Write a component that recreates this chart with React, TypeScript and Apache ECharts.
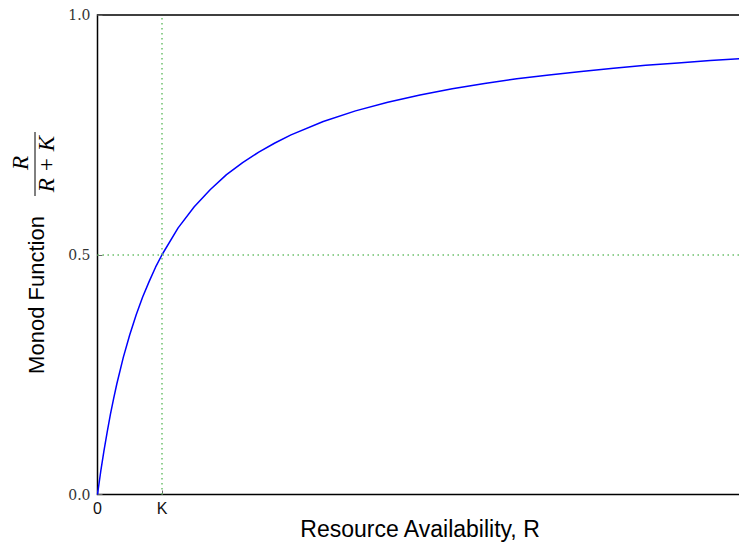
import React, { useEffect, useRef } from "react";
import * as echarts from "echarts";

// Resource availability in units of the half-saturation constant K
const resourceR: number[] = [
  0, 0.05, 0.1, 0.15, 0.2, 0.25, 0.3, 0.4, 0.5, 0.6, 0.7, 0.8, 0.9, 1, 1.25, 1.5, 1.75, 2, 2.25,
  2.5, 2.75, 3, 3.5, 4, 4.5, 5, 5.5, 6, 6.5, 7, 7.5, 8, 8.5, 9, 9.5, 10,
];
// Monod response R / (R + K)
const monodValue: number[] = [
  0, 0.048, 0.091, 0.13, 0.167, 0.2, 0.231, 0.286, 0.333, 0.375, 0.412, 0.444, 0.474, 0.5, 0.556,
  0.6, 0.636, 0.667, 0.692, 0.714, 0.733, 0.75, 0.778, 0.8, 0.818, 0.833, 0.846, 0.857, 0.867,
  0.875, 0.882, 0.889, 0.895, 0.9, 0.905, 0.909,
];
const xTickValues: number[] = [0, 1];
const xTickLabels: string[] = ["0", "K"];
const halfSaturationR = 1;
const halfValue = 0.5;

const centered = {
  align: "center",
  verticalAlign: "middle",
  textAlign: "center",
  textVerticalAlign: "middle",
};

const mathText = {
  fill: "#000000",
  fontStyle: "italic",
  fontSize: 23,
  fontFamily: "Liberation Serif",
  ...centered,
};

export default function App() {
  const ref = useRef<HTMLDivElement>(null);

  useEffect(() => {
    if (!ref.current) return;
    const chart = echarts.init(ref.current, undefined, { renderer: "svg" });
    const curve = resourceR.map((r, i) => [r, monodValue[i]]);

    chart.setOption({
      animation: false,
      backgroundColor: "#ffffff",
      grid: {
        left: 97.5,
        top: 15,
        right: 7.5,
        bottom: 49.5,
        containLabel: false,
        outerBoundsMode: "none",
        show: true,
        borderColor: "#000000",
        borderWidth: 1.5,
      },
      xAxis: {
        type: "value",
        min: 0,
        max: 10,
        interval: 1,
        splitLine: { show: false },
        axisLine: { show: false },
        axisTick: {
          show: true,
          inside: true,
          length: 4,
          customValues: xTickValues,
          lineStyle: { color: "#666666", width: 1 },
        },
        axisLabel: {
          customValues: xTickValues,
          formatter: (v: number) => xTickLabels[xTickValues.indexOf(v)] ?? "",
          color: "#111111",
          fontFamily: "Liberation Sans, Arial, sans-serif",
          fontSize: 16,
          margin: 6,
        },
      },
      yAxis: {
        type: "value",
        min: 0,
        max: 1,
        interval: 0.5,
        splitLine: { show: false },
        axisLine: { show: false },
        axisTick: {
          show: true,
          inside: true,
          length: 5,
          lineStyle: { color: "#666666", width: 1 },
        },
        axisLabel: {
          formatter: (v: number) => v.toFixed(1),
          color: "#333333",
          fontFamily: "DejaVu Serif, serif",
          fontSize: 14,
          margin: 7,
        },
      },
      graphic: [
        {
          type: "text",
          x: 420,
          y: 529,
          style: {
            text: "Resource Availability, R",
            fill: "#000000",
            fontSize: 23,
            fontFamily: "Liberation Sans",
            ...centered,
          },
        },
        {
          type: "text",
          x: 36,
          y: 295,
          rotation: Math.PI / 2,
          style: {
            text: "Monod Function",
            fill: "#000000",
            fontSize: 22,
            fontFamily: "Liberation Sans",
            ...centered,
          },
        },
        {
          type: "text",
          x: 20,
          y: 163,
          rotation: Math.PI / 2,
          style: { text: "R", ...mathText },
        },
        {
          type: "line",
          shape: { x1: 35, y1: 132, x2: 35, y2: 196 },
          style: { stroke: "#000000", lineWidth: 1 },
        },
        {
          type: "text",
          x: 46,
          y: 164,
          rotation: Math.PI / 2,
          style: { text: "R + K", ...mathText },
        },
      ],
      series: [
        {
          name: "guides",
          type: "line",
          data: [[0, 0]],
          symbol: "none",
          lineStyle: { width: 0, opacity: 0 },
          silent: true,
          z: 1,
          markLine: {
            silent: true,
            symbol: "none",
            label: { show: false },
            lineStyle: { color: "#6cc06c", width: 1.5, type: [1.5, 3.5] },
            data: [{ xAxis: halfSaturationR }, { yAxis: halfValue }],
          },
        },
        {
          name: "Monod",
          type: "line",
          data: curve,
          symbol: "none",
          smooth: false,
          lineStyle: { color: "#0000ff", width: 1.5 },
          z: 3,
        },
      ],
    });

    return () => chart.dispose();
  }, []);

  return (
    <div
      style={{
        position: "absolute",
        left: 0,
        top: 0,
        width: 739,
        height: 544,
        overflow: "hidden",
        background: "#ffffff",
      }}
    >
      <div ref={ref} style={{ width: 750, height: 544 }} />
    </div>
  );
}
